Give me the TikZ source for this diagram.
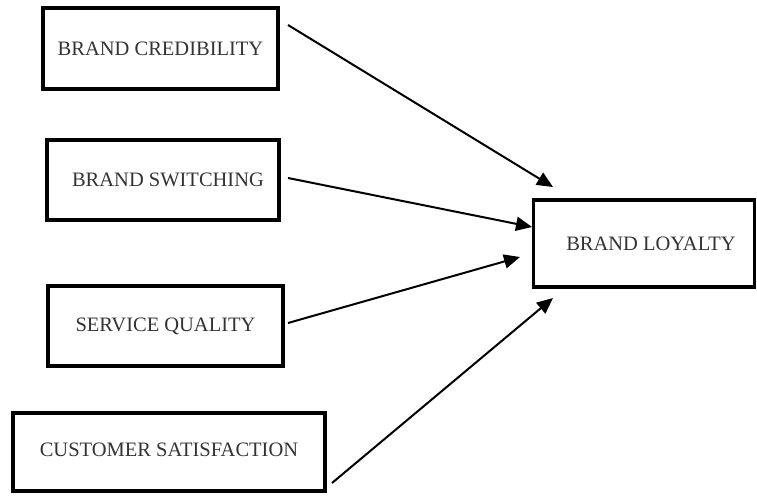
\documentclass[tikz,border=0pt]{standalone}
\usepackage{fontspec}
\setmainfont{Liberation Serif}
\usetikzlibrary{arrows.meta}
\begin{document}
\begin{tikzpicture}[x=1pt,y=-1pt,
  boxnode/.style={draw=black,line width=3.5pt,rectangle,inner sep=0pt,
    font=\fontsize{20.5}{24}\selectfont,text=black!80},
  link/.style={line width=2pt,-{Triangle[length=16pt,width=14pt]}}]
\useasboundingbox (0,0) rectangle (757,495);
\node[boxnode,minimum width=235pt,minimum height=81pt] (cred) at (160.5,48.5) {BRAND CREDIBILITY};
\node[boxnode,minimum width=232pt,minimum height=80pt] (swit) at (163,180) {\hspace*{10pt}BRAND SWITCHING};
\node[boxnode,minimum width=235pt,minimum height=80pt] (serv) at (165.5,326) {SERVICE QUALITY};
\node[boxnode,minimum width=312pt,minimum height=78pt] (cust) at (169,452) {\raisebox{5pt}{CUSTOMER SATISFACTION}};
\node[boxnode,minimum width=221pt,minimum height=87pt] (loyal) at (644,243.5) {\hspace*{14pt}BRAND LOYALTY};
\coordinate (s1) at (288,25);
\coordinate (e1) at (553,187);
\coordinate (s2) at (288,178);
\coordinate (e2) at (532,227);
\coordinate (s3) at (288,323);
\coordinate (e3) at (520,257);
\coordinate (s4) at (332,483);
\coordinate (e4) at (553,298);
\draw[link] (s1) -- (e1);
\draw[link] (s2) -- (e2);
\draw[link] (s3) -- (e3);
\draw[link] (s4) -- (e4);
\end{tikzpicture}
\end{document}
